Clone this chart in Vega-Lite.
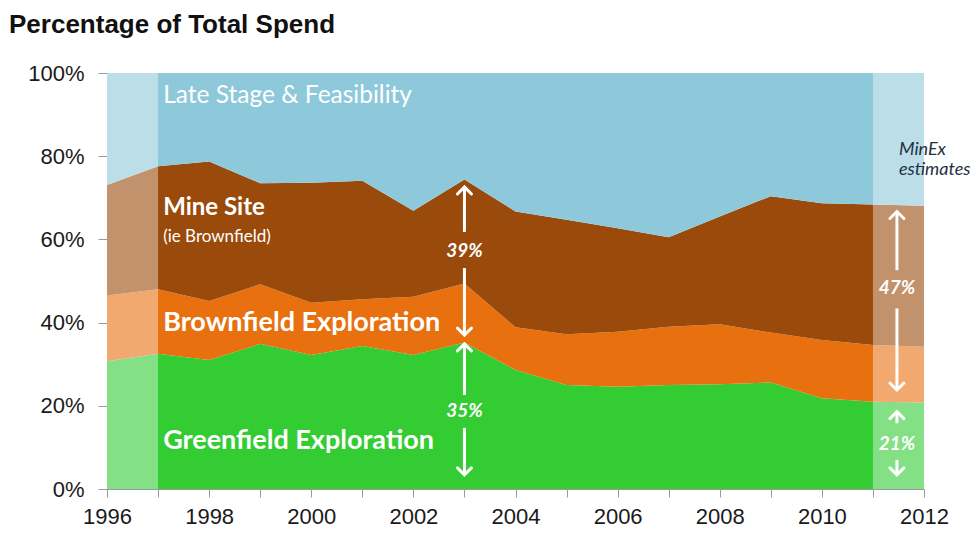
{
  "$schema": "https://vega.github.io/schema/vega-lite/v6.json",
  "autosize": {"type": "none"},
  "padding": {"left": 107, "top": 73, "right": 47, "bottom": 45},
  "width": 817,
  "height": 416,
  "background": "white",
  "title": {
    "text": "Percentage of Total Spend",
    "anchor": "start",
    "frame": "group",
    "dx": -98,
    "offset": 24,
    "font": "Liberation Sans",
    "fontSize": 26,
    "fontWeight": "bold",
    "color": "#111111"
  },
  "config": {
    "view": {"stroke": null},
    "axis": {
      "labelFont": "Liberation Sans",
      "labelFontSize": 22,
      "labelColor": "#1a1a1a",
      "domainColor": "#9a9a9a",
      "tickColor": "#9a9a9a",
      "grid": false,
      "title": null
    }
  },
  "datasets": {
    "spend": [
      {"year": 1996, "category": "Greenfield Exploration", "share": 30.7},
      {"year": 1996, "category": "Brownfield Exploration", "share": 15.8},
      {"year": 1996, "category": "Mine Site", "share": 26.6},
      {"year": 1996, "category": "Late Stage & Feasibility", "share": 26.9},
      {"year": 1997, "category": "Greenfield Exploration", "share": 32.5},
      {"year": 1997, "category": "Brownfield Exploration", "share": 15.5},
      {"year": 1997, "category": "Mine Site", "share": 29.6},
      {"year": 1997, "category": "Late Stage & Feasibility", "share": 22.4},
      {"year": 1998, "category": "Greenfield Exploration", "share": 31.0},
      {"year": 1998, "category": "Brownfield Exploration", "share": 14.2},
      {"year": 1998, "category": "Mine Site", "share": 33.5},
      {"year": 1998, "category": "Late Stage & Feasibility", "share": 21.3},
      {"year": 1999, "category": "Greenfield Exploration", "share": 34.9},
      {"year": 1999, "category": "Brownfield Exploration", "share": 14.3},
      {"year": 1999, "category": "Mine Site", "share": 24.3},
      {"year": 1999, "category": "Late Stage & Feasibility", "share": 26.5},
      {"year": 2000, "category": "Greenfield Exploration", "share": 32.2},
      {"year": 2000, "category": "Brownfield Exploration", "share": 12.6},
      {"year": 2000, "category": "Mine Site", "share": 28.8},
      {"year": 2000, "category": "Late Stage & Feasibility", "share": 26.4},
      {"year": 2001, "category": "Greenfield Exploration", "share": 34.4},
      {"year": 2001, "category": "Brownfield Exploration", "share": 11.2},
      {"year": 2001, "category": "Mine Site", "share": 28.5},
      {"year": 2001, "category": "Late Stage & Feasibility", "share": 25.9},
      {"year": 2002, "category": "Greenfield Exploration", "share": 32.2},
      {"year": 2002, "category": "Brownfield Exploration", "share": 14.0},
      {"year": 2002, "category": "Mine Site", "share": 20.7},
      {"year": 2002, "category": "Late Stage & Feasibility", "share": 33.1},
      {"year": 2003, "category": "Greenfield Exploration", "share": 35.2},
      {"year": 2003, "category": "Brownfield Exploration", "share": 14.2},
      {"year": 2003, "category": "Mine Site", "share": 25.0},
      {"year": 2003, "category": "Late Stage & Feasibility", "share": 25.6},
      {"year": 2004, "category": "Greenfield Exploration", "share": 28.6},
      {"year": 2004, "category": "Brownfield Exploration", "share": 10.3},
      {"year": 2004, "category": "Mine Site", "share": 27.8},
      {"year": 2004, "category": "Late Stage & Feasibility", "share": 33.3},
      {"year": 2005, "category": "Greenfield Exploration", "share": 25.0},
      {"year": 2005, "category": "Brownfield Exploration", "share": 12.2},
      {"year": 2005, "category": "Mine Site", "share": 27.5},
      {"year": 2005, "category": "Late Stage & Feasibility", "share": 35.3},
      {"year": 2006, "category": "Greenfield Exploration", "share": 24.6},
      {"year": 2006, "category": "Brownfield Exploration", "share": 13.2},
      {"year": 2006, "category": "Mine Site", "share": 24.9},
      {"year": 2006, "category": "Late Stage & Feasibility", "share": 37.3},
      {"year": 2007, "category": "Greenfield Exploration", "share": 25.0},
      {"year": 2007, "category": "Brownfield Exploration", "share": 14.0},
      {"year": 2007, "category": "Mine Site", "share": 21.5},
      {"year": 2007, "category": "Late Stage & Feasibility", "share": 39.5},
      {"year": 2008, "category": "Greenfield Exploration", "share": 25.2},
      {"year": 2008, "category": "Brownfield Exploration", "share": 14.4},
      {"year": 2008, "category": "Mine Site", "share": 25.9},
      {"year": 2008, "category": "Late Stage & Feasibility", "share": 34.5},
      {"year": 2009, "category": "Greenfield Exploration", "share": 25.6},
      {"year": 2009, "category": "Brownfield Exploration", "share": 12.0},
      {"year": 2009, "category": "Mine Site", "share": 32.8},
      {"year": 2009, "category": "Late Stage & Feasibility", "share": 29.6},
      {"year": 2010, "category": "Greenfield Exploration", "share": 21.8},
      {"year": 2010, "category": "Brownfield Exploration", "share": 14.0},
      {"year": 2010, "category": "Mine Site", "share": 32.9},
      {"year": 2010, "category": "Late Stage & Feasibility", "share": 31.3},
      {"year": 2011, "category": "Greenfield Exploration", "share": 21.0},
      {"year": 2011, "category": "Brownfield Exploration", "share": 13.6},
      {"year": 2011, "category": "Mine Site", "share": 33.8},
      {"year": 2011, "category": "Late Stage & Feasibility", "share": 31.6},
      {"year": 2012, "category": "Greenfield Exploration", "share": 20.8},
      {"year": 2012, "category": "Brownfield Exploration", "share": 13.4},
      {"year": 2012, "category": "Mine Site", "share": 33.9},
      {"year": 2012, "category": "Late Stage & Feasibility", "share": 31.9}
    ],
    "faded": [
      {"start": 1996, "end": 1997, "low": 0, "high": 100},
      {"start": 2011, "end": 2012, "low": 0, "high": 100}
    ],
    "shafts": [
      {"year": 2003, "from": 72.6, "to": 61.8},
      {"year": 2003, "from": 53.1, "to": 37.0},
      {"year": 2003, "from": 34.9, "to": 22.6},
      {"year": 2003, "from": 14.7, "to": 3.4},
      {"year": 2011.47, "from": 66.7, "to": 52.6},
      {"year": 2011.47, "from": 43.4, "to": 23.8},
      {"year": 2011.47, "from": 18.6, "to": 15.8},
      {"year": 2011.47, "from": 7.0, "to": 3.4}
    ],
    "upTips": [
      {"year": 2003, "pct": 72.6},
      {"year": 2003, "pct": 34.9},
      {"year": 2011.47, "pct": 66.7},
      {"year": 2011.47, "pct": 18.6}
    ],
    "downTips": [
      {"year": 2003, "pct": 37.0},
      {"year": 2003, "pct": 3.4},
      {"year": 2011.47, "pct": 23.8},
      {"year": 2011.47, "pct": 3.4}
    ],
    "pctLabels": [
      {"year": 2003, "pct": 57.2, "label": "39%"},
      {"year": 2003, "pct": 18.75, "label": "35%"},
      {"year": 2011.47, "pct": 48.2, "label": "47%"},
      {"year": 2011.47, "pct": 10.8, "label": "21%"}
    ]
  },
  "layer": [
    {
      "data": {"name": "spend"},
      "transform": [
        {"calculate": "indexof(['Greenfield Exploration', 'Brownfield Exploration', 'Mine Site', 'Late Stage & Feasibility'], datum.category)", "as": "stackOrder"}
      ],
      "mark": {"type": "area", "interpolate": "linear"},
      "encoding": {
        "x": {
          "field": "year",
          "type": "quantitative",
          "scale": {"domain": [1996, 2012], "nice": false, "zero": false},
          "axis": {
            "values": [1996, 1997, 1998, 1999, 2000, 2001, 2002, 2003, 2004, 2005, 2006, 2007, 2008, 2009, 2010, 2011, 2012],
            "labelExpr": "datum.value % 2 === 0 ? datum.value : ''",
            "tickSize": 8,
            "labelPadding": 9,
            "labelFlush": false,
            "labelOverlap": false
          }
        },
        "y": {
          "field": "share",
          "type": "quantitative",
          "stack": "zero",
          "scale": {"domain": [0, 100], "nice": false},
          "axis": {
            "values": [0, 20, 40, 60, 80, 100],
            "labelExpr": "datum.value + '%'",
            "tickSize": 9,
            "labelPadding": 14
          }
        },
        "color": {
          "field": "category",
          "type": "nominal",
          "scale": {
            "domain": ["Greenfield Exploration", "Brownfield Exploration", "Mine Site", "Late Stage & Feasibility"],
            "range": ["#33CC33", "#E8700F", "#9A4A0A", "#8EC9DB"]
          },
          "legend": null
        },
        "order": {"field": "stackOrder", "type": "quantitative", "sort": "ascending"}
      }
    },
    {
      "data": {"name": "faded"},
      "mark": {"type": "rect", "color": "white", "opacity": 0.4},
      "encoding": {
        "x": {"field": "start", "type": "quantitative"},
        "x2": {"field": "end"},
        "y": {"field": "low", "type": "quantitative"},
        "y2": {"field": "high"}
      }
    },
    {
      "data": {"values": [{"year": 1997.1, "pct": 94.5, "label": "Late Stage & Feasibility"}]},
      "mark": {"type": "text", "align": "left", "baseline": "middle", "font": "Lato", "fontSize": 24.5, "color": "white"},
      "encoding": {
        "x": {"field": "year", "type": "quantitative"},
        "y": {"field": "pct", "type": "quantitative"},
        "text": {"field": "label"}
      }
    },
    {
      "data": {"values": [{"year": 1997.1, "pct": 67.5, "label": "Mine Site"}]},
      "mark": {"type": "text", "align": "left", "baseline": "middle", "font": "Lato", "fontSize": 24, "fontWeight": "bold", "color": "white"},
      "encoding": {
        "x": {"field": "year", "type": "quantitative"},
        "y": {"field": "pct", "type": "quantitative"},
        "text": {"field": "label"}
      }
    },
    {
      "data": {"values": [{"year": 1997.1, "pct": 60.6, "label": "(ie Brownfield)"}]},
      "mark": {"type": "text", "align": "left", "baseline": "middle", "font": "Lato", "fontSize": 17, "color": "white"},
      "encoding": {
        "x": {"field": "year", "type": "quantitative"},
        "y": {"field": "pct", "type": "quantitative"},
        "text": {"field": "label"}
      }
    },
    {
      "data": {"values": [
        {"year": 1997.1, "pct": 39.9, "label": "Brownfield Exploration"},
        {"year": 1997.1, "pct": 11.5, "label": "Greenfield Exploration"}
      ]},
      "mark": {"type": "text", "align": "left", "baseline": "middle", "font": "Lato", "fontSize": 27, "fontWeight": "bold", "color": "white"},
      "encoding": {
        "x": {"field": "year", "type": "quantitative"},
        "y": {"field": "pct", "type": "quantitative"},
        "text": {"field": "label"}
      }
    },
    {
      "data": {"values": [
        {"year": 2011.51, "pct": 81.5, "label": "MinEx"},
        {"year": 2011.51, "pct": 76.7, "label": "estimates"}
      ]},
      "mark": {"type": "text", "align": "left", "baseline": "middle", "font": "Lato", "fontSize": 18, "fontStyle": "italic", "color": "#1F3042"},
      "encoding": {
        "x": {"field": "year", "type": "quantitative"},
        "y": {"field": "pct", "type": "quantitative"},
        "text": {"field": "label"}
      }
    },
    {
      "data": {"name": "shafts"},
      "mark": {"type": "rule", "color": "white", "strokeWidth": 3},
      "encoding": {
        "x": {"field": "year", "type": "quantitative"},
        "y": {"field": "from", "type": "quantitative"},
        "y2": {"field": "to"}
      }
    },
    {
      "data": {"name": "upTips"},
      "mark": {"type": "point", "shape": "M-1,1L0,0L1,1", "filled": false, "stroke": "white", "strokeWidth": 3, "size": 196, "opacity": 1, "strokeCap": "round", "strokeJoin": "miter"},
      "encoding": {
        "x": {"field": "year", "type": "quantitative"},
        "y": {"field": "pct", "type": "quantitative"}
      }
    },
    {
      "data": {"name": "downTips"},
      "mark": {"type": "point", "shape": "M-1,-1L0,0L1,-1", "filled": false, "stroke": "white", "strokeWidth": 3, "size": 196, "opacity": 1, "strokeCap": "round", "strokeJoin": "miter"},
      "encoding": {
        "x": {"field": "year", "type": "quantitative"},
        "y": {"field": "pct", "type": "quantitative"}
      }
    },
    {
      "data": {"name": "pctLabels"},
      "mark": {"type": "text", "align": "center", "baseline": "middle", "font": "Lato", "fontSize": 19, "fontWeight": "bold", "fontStyle": "italic", "color": "white"},
      "encoding": {
        "x": {"field": "year", "type": "quantitative"},
        "y": {"field": "pct", "type": "quantitative"},
        "text": {"field": "label"}
      }
    }
  ]
}
